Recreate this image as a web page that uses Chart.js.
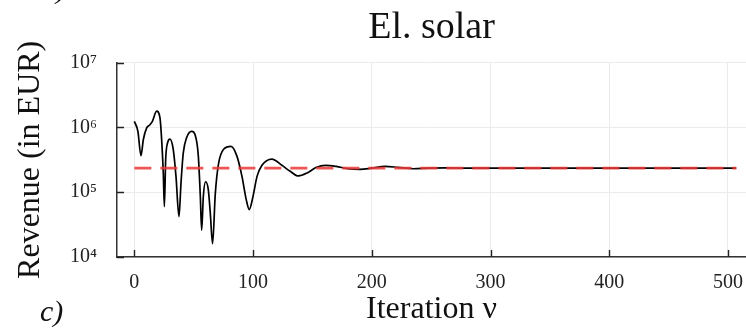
<!DOCTYPE html>
<html>
<head>
<meta charset="utf-8">
<script src="https://cdn.jsdelivr.net/npm/chart.js@4/dist/chart.umd.min.js"></script>
<style>
  html, body { margin: 0; padding: 0; background: #ffffff; }
  #wrap { width: 746px; height: 330px; position: relative; }
</style>
</head>
<body>
<div id="wrap"><canvas id="c" width="746" height="330"></canvas></div>
<script>
// ---- data ----
const iterations = [0, 3, 5.6, 7.6, 10.4, 13.2, 15.2, 18.8, 21.6, 23, 24.4, 25.3, 26.4, 28, 30,
  32.8, 35.1, 37.6, 39.3, 41.2, 44, 48.2, 51.9, 53.9, 55.6, 56.7, 58.1, 60, 62.3, 64, 65.9,
  68.2, 71, 75.2, 81.4, 86.4, 90.7, 94.3, 96.8, 99.9, 103.3, 107.5, 115.9, 124.3, 131.3,
  138.3, 146, 153, 161, 170, 180, 190, 200, 211, 222, 235, 248, 262, 280, 300, 350, 400, 450, 500, 507];
const revenue = [1.24e6, 8.7e5, 3.66e5, 6.5e5, 9.8e5, 1.1e6, 1.24e6, 1.78e6, 1.4e6, 6.5e5, 1.96e5, 6.0e4, 3.2e5, 5.8e5, 6.6e5,
  4.55e5, 1.74e5, 4.2e4, 1.38e5, 4.0e5, 6.9e5, 8.7e5, 6.9e5, 3.6e5, 8.5e4, 2.6e4, 8.5e4, 1.45e5, 1.1e5, 4.7e4, 1.6e4,
  9.5e4, 2.8e5, 4.6e5, 5.1e5, 3.6e5, 1.74e5, 7.6e4, 5.4e4, 8.5e4, 1.74e5, 2.6e5, 3.25e5, 2.6e5, 2.1e5,
  1.78e5, 2.0e5, 2.4e5, 2.6e5, 2.5e5, 2.3e5, 2.25e5, 2.35e5, 2.5e5, 2.42e5, 2.3e5, 2.36e5, 2.38e5, 2.35e5, 2.36e5, 2.35e5, 2.35e5, 2.35e5, 2.35e5, 2.35e5];
const referenceIterations = [0, 507];
const referenceRevenue = [2.35e5, 2.35e5];
const xTickValues = [0, 100, 200, 300, 400, 500];
const yTickValues = [1e4, 1e5, 1e6, 1e7];
const yTickLabels = ['10\u2074', '10\u2075', '10\u2076', '10\u2077'];
const titleText = 'El. solar';
const xTitle = 'Iteration \u03BD';
const yTitle = 'Revenue (in EUR)';
const panelLabel = 'c)';

const serif = '"Liberation Serif", "DejaVu Serif", serif';

const extras = {
  id: 'extras',
  afterDraw(chart) {
    const ctx = chart.ctx;
    const xs = chart.scales.x, ys = chart.scales.y;
    const a = chart.chartArea;
    ctx.save();
    ctx.strokeStyle = '#222222';
    ctx.lineWidth = 1.4;
    ctx.beginPath();
    xTickValues.forEach(v => {
      const px = Math.round(xs.getPixelForValue(v)) + 0.5;
      ctx.moveTo(px, a.bottom);
      ctx.lineTo(px, a.bottom - 7);
    });
    yTickValues.forEach(v => {
      const py = Math.round(ys.getPixelForValue(v)) + 0.5;
      ctx.moveTo(a.left, py);
      ctx.lineTo(a.left + 7, py);
    });
    ctx.stroke();
    // panel labels
    ctx.fillStyle = '#111111';
    ctx.font = 'italic 30px ' + serif;
    ctx.textBaseline = 'alphabetic';
    ctx.textAlign = 'left';
    ctx.fillText(panelLabel, 40, 321);
    ctx.fillText(')', 56, -2);
    ctx.restore();
  }
};

const ctx = document.getElementById('c').getContext('2d');
new Chart(ctx, {
  type: 'line',
  data: {
    datasets: [
      {
        label: 'reference',
        data: referenceIterations.map((x, i) => ({ x, y: referenceRevenue[i] })),
        borderColor: 'rgba(235, 55, 55, 0.85)',
        borderWidth: 2.8,
        borderDash: [17, 9],
        pointRadius: 0,
        fill: false,
        order: 0
      },
      {
        label: 'revenue',
        data: iterations.map((x, i) => ({ x, y: revenue[i] })),
        borderColor: '#000000',
        borderWidth: 1.7,
        pointRadius: 0,
        cubicInterpolationMode: 'monotone',
        fill: false,
        order: 1
      }
    ]
  },
  options: {
    responsive: false,
    animation: false,
    layout: { padding: { left: 0, right: 0, top: 0, bottom: 0 } },
    plugins: {
      legend: { display: false },
      tooltip: { enabled: false },
      title: {
        display: true,
        text: titleText,
        fullSize: false,
        color: '#111111',
        font: { family: serif, size: 38, weight: 'normal' },
        padding: { top: 5, bottom: 12 }
      }
    },
    scales: {
      x: {
        type: 'linear',
        min: -14.6,
        max: 515.2,
        afterBuildTicks: s => { s.ticks = xTickValues.map(v => ({ value: v })); },
        afterFit: s => { s.height = 73; s.paddingLeft = 0; s.paddingRight = 0; },
        grid: { color: '#ebebeb', lineWidth: 1, drawTicks: false },
        border: { display: true, color: '#333333', width: 1.5 },
        ticks: {
          color: '#222222',
          font: { family: serif, size: 20 },
          padding: 14,
          maxRotation: 0,
          callback: v => String(v)
        },
        title: {
          display: true,
          text: xTitle,
          color: '#111111',
          font: { family: serif, size: 32 },
          padding: { top: 0, bottom: 1 }
        }
      },
      y: {
        type: 'logarithmic',
        min: 1e4,
        max: 1e7,
        afterBuildTicks: s => { s.ticks = yTickValues.map(v => ({ value: v })); },
        afterFit: s => { s.width = 117; },
        grid: { color: '#ebebeb', lineWidth: 1, drawTicks: false },
        border: { display: true, color: '#333333', width: 1.5 },
        ticks: {
          color: '#222222',
          font: { family: serif, size: 20 },
          padding: 20,
          callback: v => {
            const i = yTickValues.indexOf(v);
            return i >= 0 ? yTickLabels[i] : '';
          }
        },
        title: {
          display: true,
          text: yTitle,
          color: '#111111',
          font: { family: serif, size: 32 },
          padding: { top: 11, bottom: 0 }
        }
      }
    }
  },
  plugins: [extras]
});
</script>
</body>
</html>
